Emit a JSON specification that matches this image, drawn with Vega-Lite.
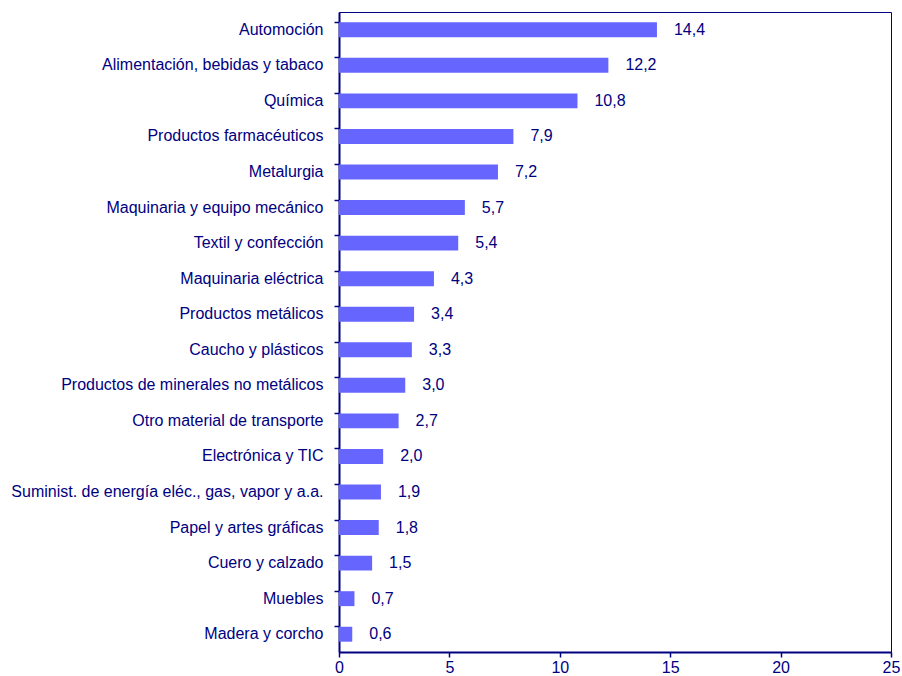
{
  "$schema": "https://vega.github.io/schema/vega-lite/v6.json",
  "autosize": "none",
  "width": 552,
  "height": 640,
  "padding": {"left": 339, "top": 12, "right": 11, "bottom": 24},
  "background": "white",
  "config": {
    "locale": {"number": {"decimal": ",", "thousands": ".", "grouping": [3], "currency": ["", " €"]}},
    "font": "Liberation Sans",
    "view": {"stroke": "#000080", "strokeWidth": 1}
  },
  "data": {"values": [
    {"sector": "Automoción", "v": 14.4},
    {"sector": "Alimentación, bebidas y tabaco", "v": 12.2},
    {"sector": "Química\u00a0", "v": 10.8},
    {"sector": "Productos farmacéuticos\u00a0\u00a0", "v": 7.9},
    {"sector": "Metalurgia", "v": 7.2},
    {"sector": "Maquinaria y equipo mecánico\u00a0", "v": 5.7},
    {"sector": "Textil y confección", "v": 5.4},
    {"sector": "Maquinaria eléctrica", "v": 4.3},
    {"sector": "Productos metálicos", "v": 3.4},
    {"sector": "Caucho y plásticos", "v": 3.3},
    {"sector": "Productos de minerales no metálicos", "v": 3.0},
    {"sector": "Otro material de transporte", "v": 2.7},
    {"sector": "Electrónica y TIC", "v": 2.0},
    {"sector": "Suminist. de energía eléc., gas, vapor y a.a.", "v": 1.9},
    {"sector": "Papel y artes gráficas", "v": 1.8},
    {"sector": "Cuero y calzado", "v": 1.5},
    {"sector": "Muebles", "v": 0.7},
    {"sector": "Madera y corcho", "v": 0.6}
  ]},
  "encoding": {
    "y": {
      "field": "sector", "type": "nominal", "sort": null, "title": null,
      "scale": {"paddingInner": 0.58, "paddingOuter": 0.29},
      "axis": {
        "bandPosition": 0, "labelFontSize": 16, "labelColor": "#000080",
        "domainColor": "#000080", "domainWidth": 2, "tickColor": "#000080",
        "tickWidth": 1.5, "tickSize": 5, "labelPadding": 11, "labelLimit": 400,
        "labelBound": false, "grid": false
      }
    },
    "x": {
      "field": "v", "type": "quantitative", "title": null,
      "scale": {"domain": [0, 25], "nice": false},
      "axis": {
        "values": [0, 5, 10, 15, 20, 25], "labelFontSize": 16, "labelColor": "#000080",
        "domainColor": "#000080", "domainWidth": 2, "tickColor": "#000080",
        "tickWidth": 1.5, "tickSize": 5, "labelPadding": 2, "grid": false,
        "labelFlush": false
      }
    }
  },
  "layer": [
    {"mark": {"type": "bar", "color": "#6666FF"}},
    {"mark": {"type": "text", "align": "left", "dx": 17, "fontSize": 16, "color": "#000080", "baseline": "middle"},
     "encoding": {"text": {"field": "v", "type": "quantitative", "format": ".1f"}}}
  ]
}
